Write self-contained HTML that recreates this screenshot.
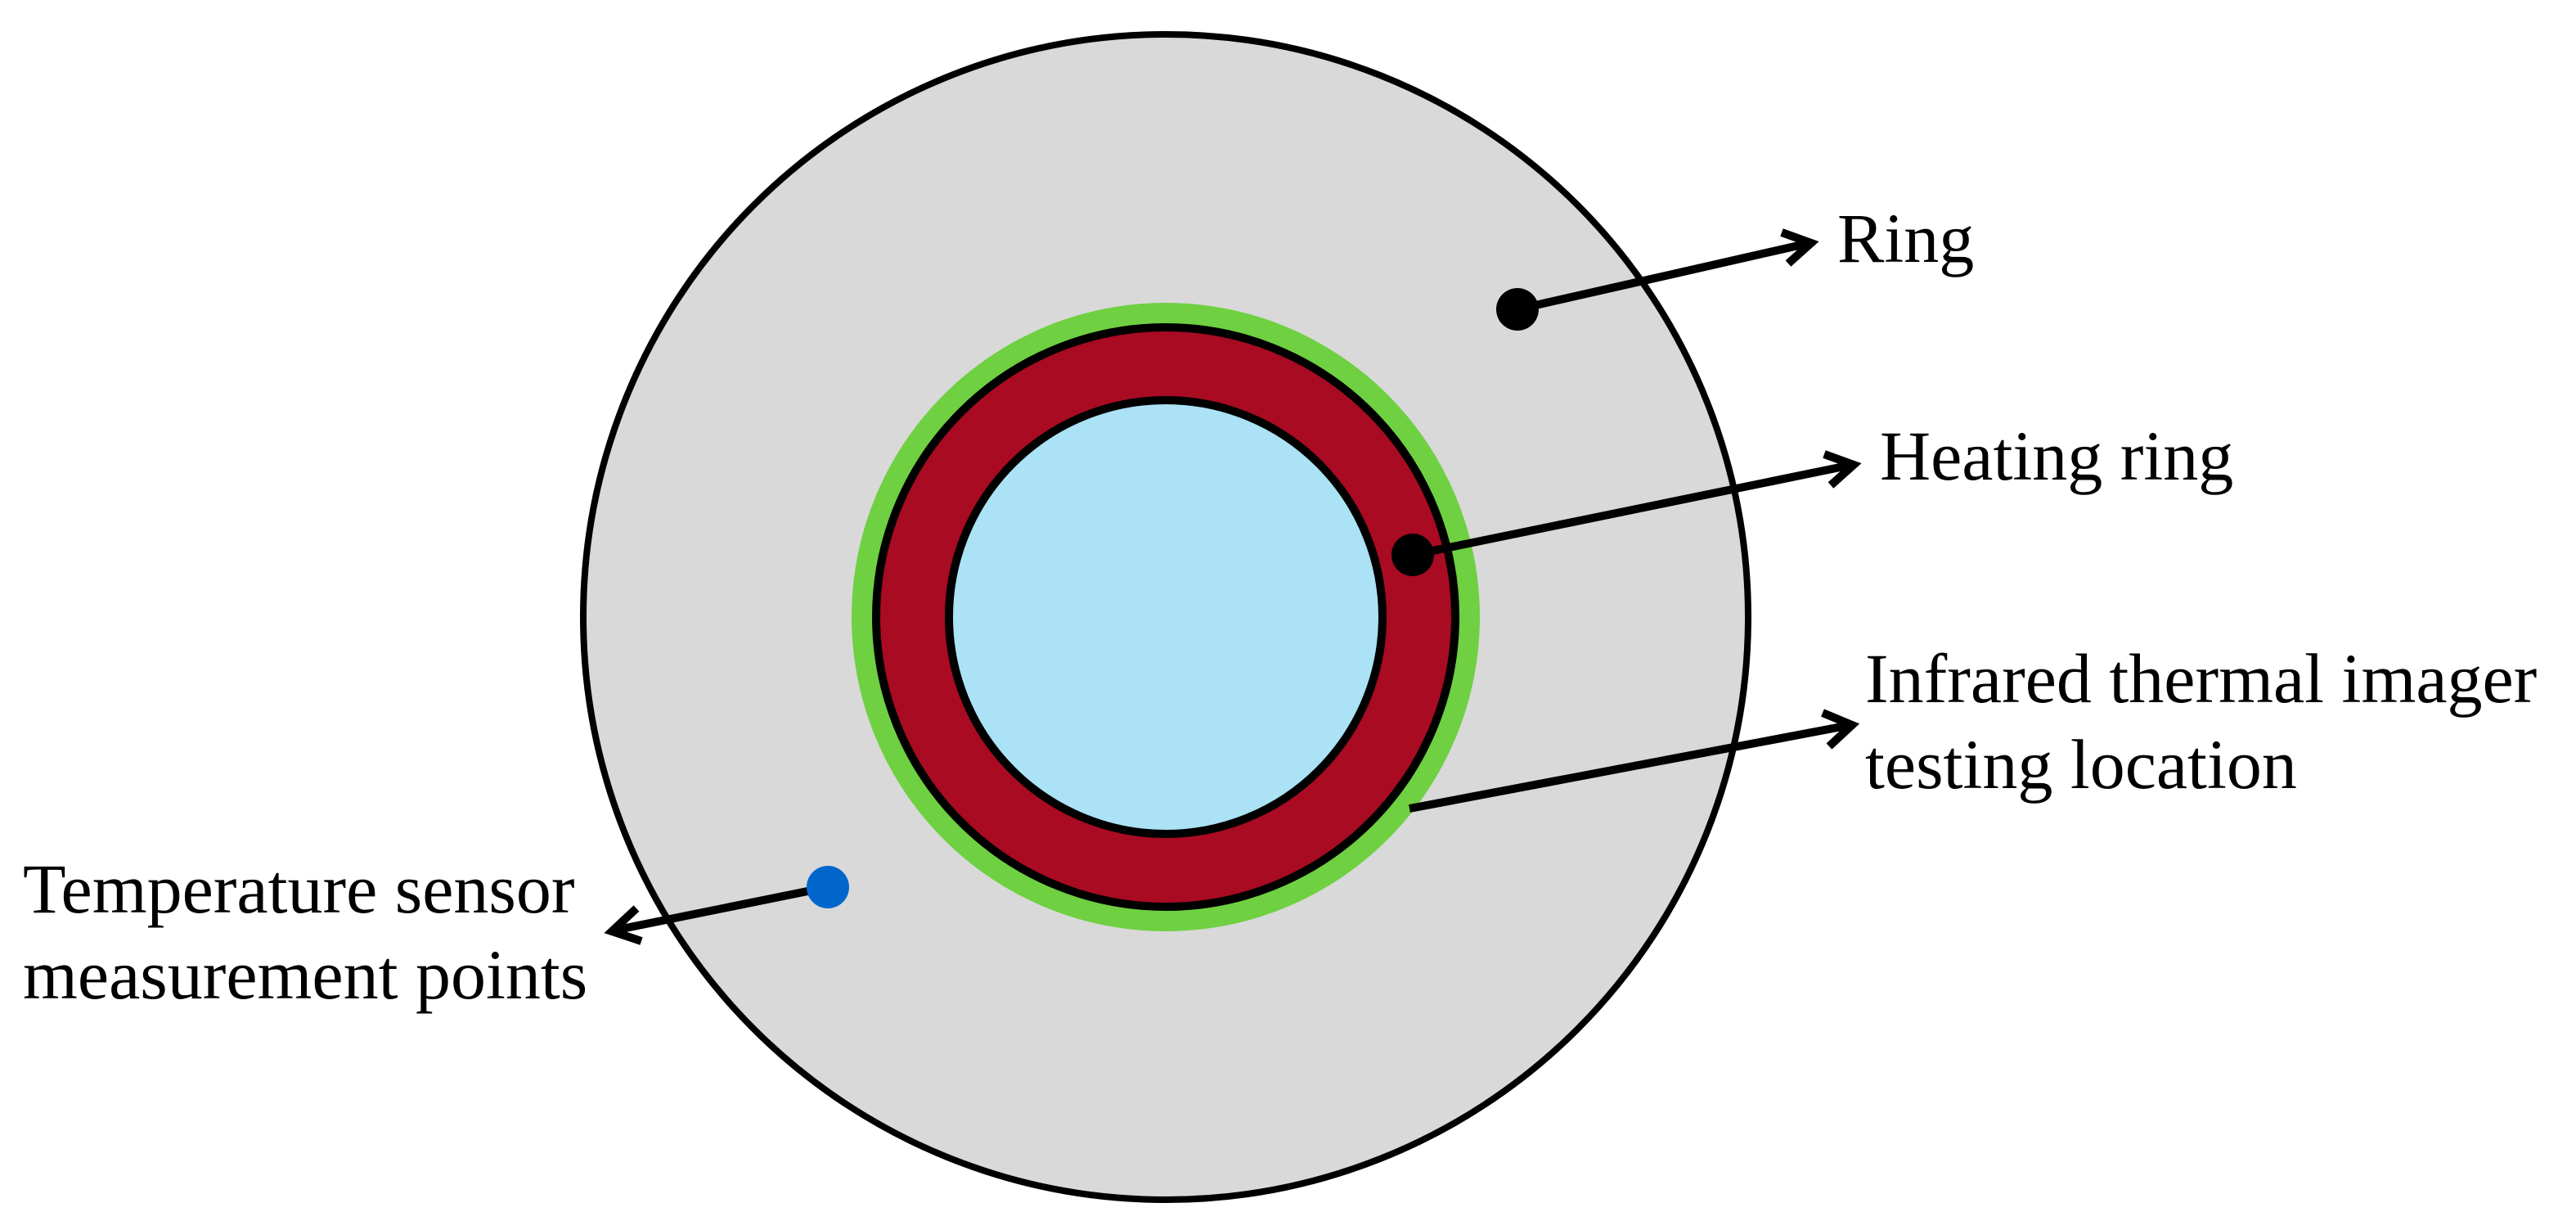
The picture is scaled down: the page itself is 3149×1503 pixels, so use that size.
<!DOCTYPE html>
<html><head><meta charset="utf-8"><style>
html,body{margin:0;padding:0;background:#fff;}
svg{display:block;}
text{font-family:"Liberation Serif",serif;font-size:86px;fill:#000;}
</style></head><body>
<svg width="3149" height="1503" viewBox="0 0 3149 1503" xmlns="http://www.w3.org/2000/svg">
<circle cx="1425" cy="754" r="712" fill="#d9d9d9" stroke="#000" stroke-width="8"/>
<circle cx="1425" cy="754" r="384" fill="#6fd041"/>
<circle cx="1425" cy="754" r="354" fill="#a90b22" stroke="#000" stroke-width="10"/>
<circle cx="1425" cy="754" r="265" fill="#abe2f5" stroke="#000" stroke-width="10"/>
<g stroke="#000" stroke-width="10" fill="none" stroke-linecap="butt">
<line x1="1855" y1="378" x2="2212" y2="297"/>
<polyline points="2178,284 2214,297 2186,322"/>
<line x1="1727" y1="678" x2="2264" y2="568"/>
<polyline points="2230,555 2266,568 2238,593"/>
<line x1="1723" y1="988" x2="2262" y2="886"/>
<polyline points="2228,871 2264,886 2236,912"/>
<line x1="1012" y1="1084" x2="750" y2="1137"/>
<polyline points="778,1110 748,1138 784,1150"/>
</g>
<circle cx="1855" cy="378" r="26" fill="#000"/>
<circle cx="1727" cy="678" r="26" fill="#000"/>
<circle cx="1012" cy="1084" r="26" fill="#0066cc"/>
<text x="2246" y="320">Ring</text>
<text x="2298" y="586">Heating ring</text>
<text x="2280" y="858">Infrared thermal imager</text>
<text x="2280" y="963">testing location</text>
<text x="28" y="1115">Temperature sensor</text>
<text x="28" y="1220">measurement points</text>
</svg>
</body></html>
